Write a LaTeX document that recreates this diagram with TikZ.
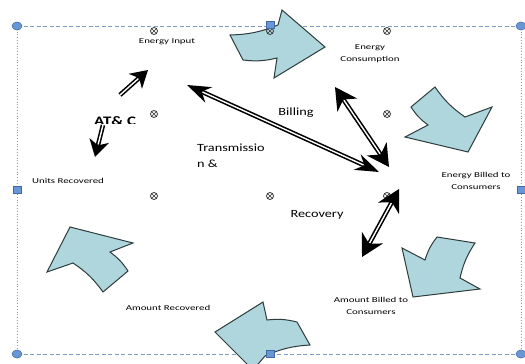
\documentclass[tikz,border=0pt]{standalone}
\usepackage{fontspec}
\newfontfamily\lblfont[FakeStretch=1.45]{Carlito}
\newfontfamily\bigfont[FakeStretch=1.3]{Carlito}
\usetikzlibrary{arrows.meta,shapes.geometric}
\definecolor{blockfill}{RGB}{174,214,220}
\definecolor{blockline}{RGB}{45,60,60}
\definecolor{selline}{RGB}{125,155,190}
\definecolor{handlefill}{RGB}{105,150,212}
\definecolor{handleline}{RGB}{65,105,165}
\tikzset{
  blockarrow/.style={fill=blockfill, draw=blockline, line width=1pt, line join=miter},
  lbl/.style={font=\lblfont\fontsize{7.5}{12}\selectfont, inner sep=0pt, align=center},
  biglbl/.style={font=\bigfont\fontsize{11}{16}\selectfont, inner sep=0pt, align=left},
  xmark/.style={circle, draw=black!80, line width=0.8pt, minimum size=7pt, inner sep=0pt,
    path picture={\draw[black!80, line width=0.7pt]
      (path picture bounding box.south west) -- (path picture bounding box.north east)
      (path picture bounding box.north west) -- (path picture bounding box.south east);}},
  shaft/.style={line width=4.6pt},
  shaftcore/.style={white, line width=1.4pt},
  smalltips/.style={>={Stealth[length=17pt, width=20pt, inset=5pt, line width=0pt]}},
  longtips/.style={>={Stealth[length=24pt, width=17pt, inset=8pt, line width=0pt]}},
  bigtips/.style={>={Stealth[length=22pt, width=24pt, inset=7pt, line width=0pt]}},
  selframe/.style={selline, line width=0.8pt},
  cornerhandle/.style={ellipse, fill=handlefill, draw=handleline, line width=0.5pt, minimum width=10pt, minimum height=8pt, inner sep=0pt},
  sidehandle/.style={rectangle, fill=handlefill, draw=handleline, line width=0.5pt, minimum width=8pt, minimum height=7pt, inner sep=0pt}
}
\begin{document}
\begin{tikzpicture}[x=1pt, y=-1pt]
  \useasboundingbox[fill=white] (0,0) rectangle (525,364);
  \coordinate (tl) at (17,26);
  \coordinate (tr) at (521,26);
  \coordinate (bl) at (17,354);
  \coordinate (br) at (521,354);
  \draw[selframe, dash pattern=on 4pt off 2.5pt] (tl) -- (tr) (bl) -- (br);
  \draw[selframe, dotted] (tl) -- (bl) (tr) -- (br);

  \draw[blockarrow] (230,35) to[bend right=10] (278,25) -- (282,10) -- (325,47) -- (274,78) -- (277,58) to[bend left=10] (243,60) -- cycle;
  \draw[blockarrow] (411,107) -- (435,87) to[bend right=10] (465,117) -- (492,107) -- (468,152) -- (405,137) -- (428,125) to[bend left=10] cycle;
  \draw[blockarrow] (437,237) -- (475,243) to[bend right=10] (460,278) -- (480,289) -- (413,297) -- (402,248) -- (425,260) to[bend left=10] cycle;
  \draw[blockarrow] (297,322) -- (310,345) to[bend right=10] (265,356) -- (253,370) -- (215,332) -- (263,302) -- (267,320) to[bend left=10] cycle;
  \draw[blockarrow] (128,271) -- (103,292) to[bend right=10] (73,263) -- (47,272) -- (70,227) -- (133,243) -- (110,252) to[bend left=10] cycle;

  \foreach \mx/\my [count=\i] in {154/31, 270/31, 387/31, 154/114, 387/114, 154/196, 270/196, 387/196}
    \node[xmark] (m\i) at (\mx,\my) {};

  \node[cornerhandle] (h1) at (tl) {};
  \node[cornerhandle] (h2) at (tr) {};
  \node[cornerhandle] (h3) at (bl) {};
  \node[cornerhandle] (h4) at (br) {};
  \node[sidehandle] (s1) at (270,25) {};
  \node[sidehandle] (s2) at (17,190) {};
  \node[sidehandle] (s3) at (521,190) {};
  \node[sidehandle] (s4) at (270,354) {};

  \node[lbl] (input) at (167,42) {Energy Input};
  \node[lbl] (consume) at (370,54) {Energy\\Consumption};
  \node[lbl] (billed) at (476,181) {Energy Billed to\\Consumers};
  \node[lbl] (units) at (68,181) {Units Recovered};
  \node[lbl] (amtrec) at (168,308) {Amount Recovered};
  \node[lbl] (amtbill) at (371,306) {Amount Billed to\\Consumers};
  \node[biglbl, anchor=west] (trans) at (197,156) {Transmissio\\n \&};
  \node[biglbl] (billing) at (296,113) {Billing};
  \node[biglbl] (recovery) at (317,215) {Recovery};
  \begin{scope}
    \clip (80,100) rectangle (160,123);
    \node[biglbl, font=\bigfont\bfseries\fontsize{13}{15}\selectfont, anchor=base west] (atc) at (94,125) {AT\&~C};
  \end{scope}

  \coordinate (a1s) at (120,95);
  \coordinate (a1e) at (148,70);
  \coordinate (a2s) at (103,125);
  \coordinate (a2e) at (95,157);
  \coordinate (a3s) at (187,85);
  \coordinate (a3e) at (379,172);
  \coordinate (a4s) at (335,87);
  \coordinate (a4e) at (389,167);
  \coordinate (a5s) at (399,189);
  \coordinate (a5e) at (362,257);
  \draw[shaft, smalltips, ->] (a1s) -- (a1e);
  \draw[shaftcore, shorten >=13pt] (a1s) -- (a1e);
  \draw[shaft, smalltips, ->] (a2s) -- (a2e);
  \draw[shaftcore, shorten >=13pt] (a2s) -- (a2e);
  \draw[shaft, longtips, <->] (a3s) -- (a3e);
  \draw[shaftcore, shorten >=17pt, shorten <=17pt] (a3s) -- (a3e);
  \draw[shaft, bigtips, <->] (a4s) -- (a4e);
  \draw[shaftcore, shorten >=16pt, shorten <=16pt] (a4s) -- (a4e);
  \draw[shaft, bigtips, <->] (a5s) -- (a5e);
  \draw[shaftcore, shorten >=16pt, shorten <=16pt] (a5s) -- (a5e);
\end{tikzpicture}
\end{document}
